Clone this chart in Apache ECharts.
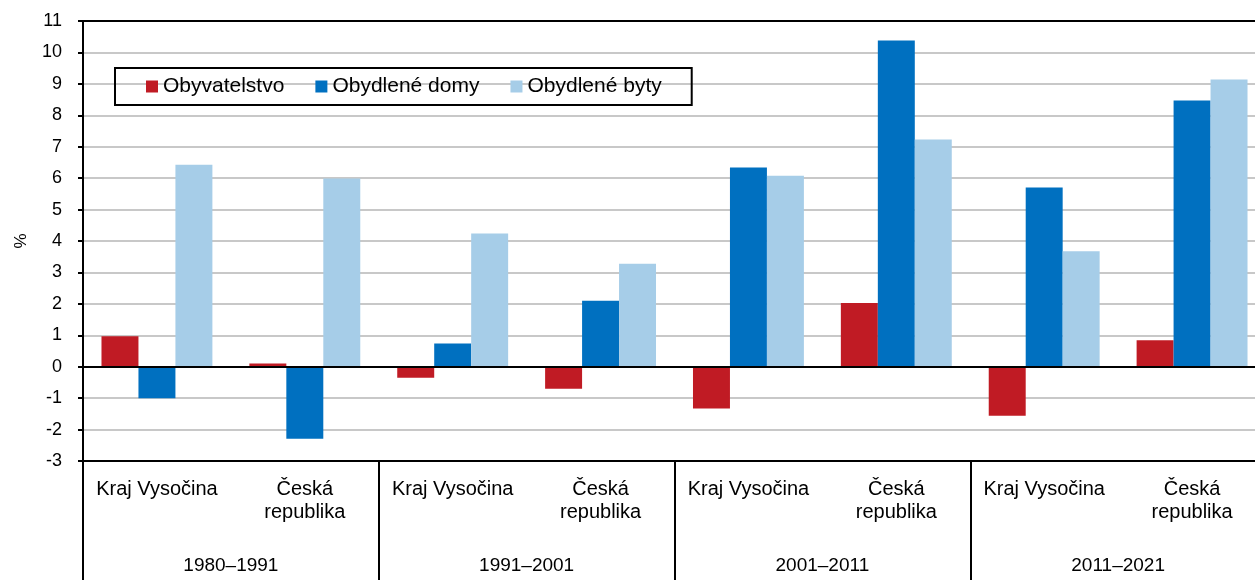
<!DOCTYPE html>
<html>
<head>
<meta charset="utf-8">
<script src="https://cdn.jsdelivr.net/npm/echarts@6/dist/echarts.min.js"></script>
<style>html,body{margin:0;padding:0;background:#fff}#c{width:1255px;height:580px}</style>
</head>
<body>
<div id="c"></div>
<script>
const categories = ['Kraj Vysočina','Česká\nrepublika','Kraj Vysočina','Česká\nrepublika','Kraj Vysočina','Česká\nrepublika','Kraj Vysočina','Česká\nrepublika'];
const periods = ['1980–1991','1991–2001','2001–2011','2011–2021'];
const obyvatelstvo = [0.97, 0.1, -0.35, -0.7, -1.33, 2.03, -1.56, 0.84];
const obydleneDomy = [-1.0, -2.29, 0.74, 2.1, 6.34, 10.38, 5.7, 8.47];
const obydleneByty = [6.43, 5.99, 4.24, 3.28, 6.08, 7.23, 3.67, 9.14];
const seriesNames = ['Obyvatelstvo','Obydlené domy','Obydlené byty'];
const colors = ['#c01b24','#0070c0','#a6cde8'];

const FONT = 'Liberation Sans, Arial, sans-serif';
const splitColors = [];
for (let v = -3; v <= 11; v++) splitColors.push((v === -3 || v === 11) ? '#000' : '#c8c8c8');

const chart = echarts.init(document.getElementById('c'), null, {renderer:'canvas'});
chart.setOption({
  animation: false,
  color: colors,
  textStyle: {fontFamily: FONT},
  legend: {
    left: 115, top: 68,
    data: seriesNames,
    icon: 'rect', itemWidth: 12, itemHeight: 12, itemGap: 31,
    padding: [8, 30, 8, 31],
    borderColor: '#000', borderWidth: 2,
    textStyle: {fontSize: 21, color: '#000', fontFamily: FONT}
  },
  grid: {left: 83, top: 21, width: 1183, height: 440, containLabel: false, outerBoundsMode: 'none'},
  xAxis: [{
    type: 'category', position: 'bottom', data: categories,
    axisLine: {onZero: false, lineStyle: {color: '#000', width: 2}},
    axisTick: {show: false},
    axisLabel: {interval: 0, margin: 17, fontSize: 20, lineHeight: 23, color: '#000', fontFamily: FONT, align: 'center'}
  }, {
    type: 'category', position: 'bottom', data: periods,
    axisLine: {show: false, onZero: false},
    axisTick: {show: true, length: 125, lineStyle: {color: '#000', width: 2}},
    axisLabel: {interval: 0, margin: 95, fontSize: 19, color: '#000', fontFamily: FONT}
  }],
  yAxis: {
    type: 'value', min: -3, max: 11, interval: 1,
    name: '%', nameLocation: 'middle', nameGap: 53, nameRotate: 90,
    nameTextStyle: {fontSize: 17, color: '#000', fontFamily: FONT},
    axisLine: {show: true, lineStyle: {color: '#000', width: 2}},
    axisTick: {show: true, length: 5, lineStyle: {color: '#000', width: 2}},
    axisLabel: {fontSize: 18, color: '#000', margin: 21, fontFamily: FONT},
    splitLine: {show: true, lineStyle: {color: splitColors, width: 2}}
  },
  series: [
    {name: seriesNames[0], type: 'bar', data: obyvatelstvo, barGap: '0%', barCategoryGap: '25%',
     markLine: {silent: true, symbol: 'none', label: {show: false}, lineStyle: {color: '#000', width: 2, type: 'solid'}, data: [{yAxis: 0}], z: 10}},
    {name: seriesNames[1], type: 'bar', data: obydleneDomy, barGap: '0%', barCategoryGap: '25%'},
    {name: seriesNames[2], type: 'bar', data: obydleneByty, barGap: '0%', barCategoryGap: '25%'}
  ]
});
</script>
</body>
</html>
